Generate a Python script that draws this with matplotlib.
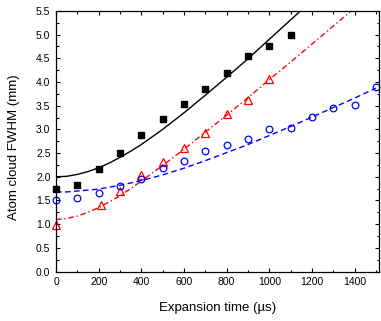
import matplotlib
matplotlib.use("Agg")
import matplotlib.pyplot as plt
from matplotlib.ticker import MultipleLocator

plt.rcParams['font.family'] = ['Liberation Sans', 'DejaVu Sans']

# measured cloud sizes (mm) vs expansion time (us)
t_sq = [0, 100, 200, 300, 400, 500, 600, 700, 800, 900, 1000, 1100]
w_sq = [1.75, 1.83, 2.17, 2.50, 2.88, 3.22, 3.53, 3.85, 4.19, 4.54, 4.77, 5.00]

t_tri = [0, 210, 300, 400, 500, 600, 700, 800, 900, 1000]
w_tri = [0.98, 1.41, 1.70, 2.03, 2.32, 2.61, 2.93, 3.32, 3.63, 4.07]

t_circ = [0, 100, 200, 300, 400, 500, 600, 700, 800, 900, 1000, 1100, 1200, 1300, 1400, 1500]
w_circ = [1.51, 1.55, 1.66, 1.81, 1.96, 2.18, 2.33, 2.54, 2.67, 2.79, 3.00, 3.03, 3.26, 3.45, 3.51, 3.90]

# fitted curves
t_fit_sq = [0, 50, 100, 150, 200, 250, 300, 350, 400, 500, 600, 700, 800, 900, 1000, 1100, 1200]
f_sq = [2.00, 2.01, 2.05, 2.11, 2.19, 2.29, 2.41, 2.54, 2.68, 3.00, 3.35, 3.72, 4.10, 4.49, 4.90, 5.31, 5.72]

t_fit_tri = [0, 50, 100, 150, 200, 250, 300, 350, 400, 500, 600, 700, 800, 900, 1000, 1100, 1200, 1300, 1400]
f_tri = [1.10, 1.12, 1.17, 1.25, 1.35, 1.47, 1.60, 1.75, 1.91, 2.24, 2.58, 2.94, 3.30, 3.67, 4.05, 4.42, 4.80, 5.18, 5.56]

t_fit_circ = [0, 50, 100, 150, 200, 250, 300, 400, 500, 600, 700, 800, 900, 1000, 1100, 1200, 1300, 1400, 1500]
f_circ = [1.68, 1.68, 1.70, 1.72, 1.74, 1.78, 1.82, 1.92, 2.04, 2.18, 2.34, 2.51, 2.68, 2.87, 3.06, 3.26, 3.46, 3.66, 3.87]

fig = plt.figure(figsize=(3.81, 3.21), dpi=100)
ax = fig.add_axes([0.147, 0.154, 0.848, 0.812])

ax.plot(t_fit_sq, f_sq, '-', color='black', lw=1.0)
ax.plot(t_fit_tri, f_tri, color='red', lw=1.0, dashes=(4, 2, 1, 2))
ax.plot(t_fit_circ, f_circ, '--', color='blue', lw=1.0, dashes=(4, 2.5))

ax.plot(t_sq, w_sq, 's', color='black', ms=4.3, clip_on=False)
ax.plot(t_tri, w_tri, '^', mfc='none', mec='red', mew=0.9, ms=5.2, clip_on=False)
ax.plot(t_circ, w_circ, 'o', mfc='none', mec='blue', mew=0.9, ms=4.8, clip_on=False)

ax.set_xlim(0, 1515)
ax.set_ylim(0, 5.5)
ax.xaxis.set_major_locator(MultipleLocator(200))
ax.xaxis.set_minor_locator(MultipleLocator(100))
ax.yaxis.set_major_locator(MultipleLocator(0.5))
ax.yaxis.set_minor_locator(MultipleLocator(0.25))
ax.yaxis.set_major_formatter(plt.FormatStrFormatter('%.1f'))

ax.tick_params(which='both', direction='in', top=True, right=True, width=0.8, labelsize=7.5, pad=4)
ax.tick_params(which='major', length=3)
ax.tick_params(which='minor', length=1.8)
for s in ax.spines.values():
    s.set_linewidth(0.9)

ax.set_xlabel('Expansion time (µs)', fontsize=9.5)
ax.set_ylabel('Atom cloud FWHM (mm)', fontsize=9.5)
ax.xaxis.set_label_coords(0.5, -0.118)
ax.yaxis.set_label_coords(-0.112, 0.476)

fig.savefig('out.png', dpi=100)
